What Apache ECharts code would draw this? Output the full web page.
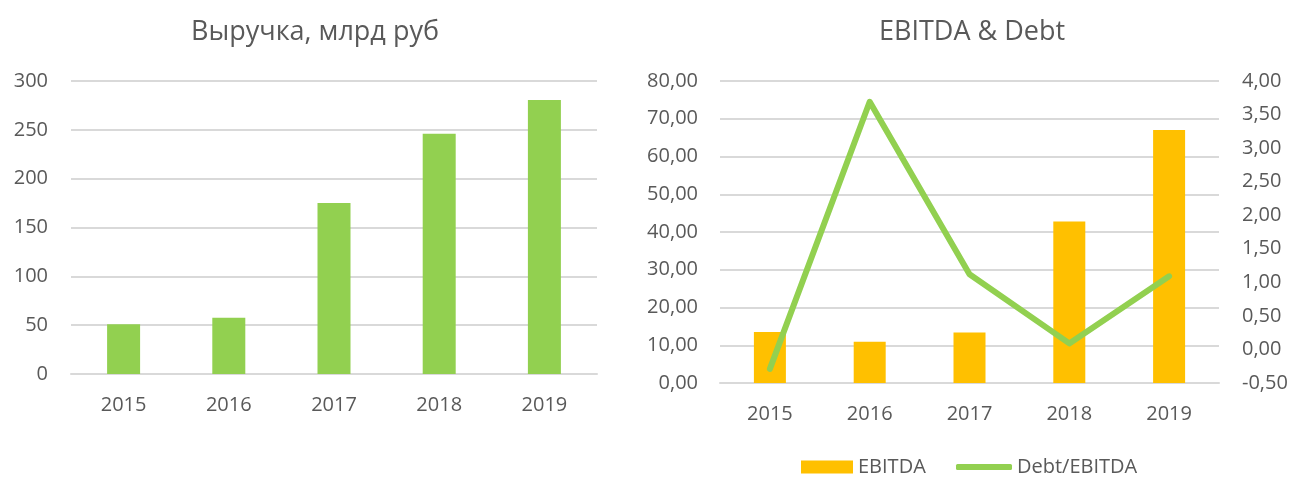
<!DOCTYPE html>
<html><head><meta charset="utf-8">
<script src="https://cdn.jsdelivr.net/npm/echarts@6/dist/echarts.min.js"></script>
<style>html,body{margin:0;padding:0;background:#fff}#c{width:1293px;height:478px}</style>
</head><body><div id="c"></div>
<script>
const years = ['2015','2016','2017','2018','2019'];
const revenue = [51, 57.5, 175, 246, 280.5];
const ebitda = [13.5, 10.9, 13.4, 42.8, 67.0];
const debtEbitda = [-0.29, 3.69, 1.12, 0.09, 1.09];

const txt = '#595959';
const font = '"Open Sans", "Liberation Sans", sans-serif';
const fmt2 = v => v.toFixed(2).replace('.', ',');
const tick = 20;

const chart = echarts.init(document.getElementById('c'), null, {renderer:'canvas'});
chart.setOption({
  animation: false,
  textStyle: {fontFamily: font},
  title: [
    {text: 'Выручка, млрд руб', left: 310, top: 14, textAlign: 'center',
     textStyle: {fontFamily: font, fontSize: 27, fontWeight: 'normal', color: txt}},
    {text: 'EBITDA & Debt', left: 967, top: 14, textAlign: 'center',
     textStyle: {fontFamily: font, fontSize: 27, fontWeight: 'normal', color: txt}}
  ],
  legend: [
    {data: [{name: 'EBITDA', icon: 'rect'}], top: 457, left: 801, padding: 0,
     itemWidth: 52, itemHeight: 13,
     textStyle: {fontFamily: font, fontSize: 20, color: txt}},
    {data: [{name: 'Debt/EBITDA', icon: 'roundRect'}], top: 457, left: 956, padding: 0,
     itemWidth: 56, itemHeight: 6,
     textStyle: {fontFamily: font, fontSize: 20, color: txt}}
  ],
  grid: [
    {left: 71, right: 1293 - 597, top: 81, bottom: 478 - 374},
    {left: 720, right: 1293 - 1219, top: 81, bottom: 478 - 383}
  ],
  xAxis: [
    {type: 'category', gridIndex: 0, data: years,
     axisLine: {lineStyle: {color: '#d9d9d9', width: 2}}, axisTick: {show: false},
     axisLabel: {color: txt, fontSize: tick, margin: 21, fontFamily: font}},
    {type: 'category', gridIndex: 1, data: years,
     axisLine: {lineStyle: {color: '#d9d9d9', width: 2}}, axisTick: {show: false},
     axisLabel: {color: txt, fontSize: tick, margin: 21, fontFamily: font}}
  ],
  yAxis: [
    {type: 'value', gridIndex: 0, min: 0, max: 300, interval: 50,
     axisLine: {show: false}, axisTick: {show: false},
     splitLine: {lineStyle: {color: '#d9d9d9', width: 2}},
     axisLabel: {color: txt, fontSize: tick, margin: 23, fontFamily: font}},
    {type: 'value', gridIndex: 1, min: 0, max: 80, interval: 10,
     axisLine: {show: false}, axisTick: {show: false},
     splitLine: {lineStyle: {color: '#d9d9d9', width: 2}},
     axisLabel: {color: txt, fontSize: tick, margin: 22, fontFamily: font, formatter: fmt2}},
    {type: 'value', gridIndex: 1, position: 'right', min: -0.5, max: 4, interval: 0.5,
     axisLine: {show: false}, axisTick: {show: false}, splitLine: {show: false},
     axisLabel: {color: txt, fontSize: tick, margin: 23, fontFamily: font, formatter: fmt2}}
  ],
  series: [
    {type: 'bar', xAxisIndex: 0, yAxisIndex: 0, data: revenue, barWidth: 33,
     itemStyle: {color: '#92d050'}},
    {name: 'EBITDA', type: 'bar', xAxisIndex: 1, yAxisIndex: 1, data: ebitda, barWidth: 32,
     itemStyle: {color: '#ffc000'}},
    {name: 'Debt/EBITDA', type: 'line', xAxisIndex: 1, yAxisIndex: 2, data: debtEbitda,
     symbol: 'none', lineStyle: {color: '#92d050', width: 6, cap: 'round', join: 'round'},
     itemStyle: {color: '#92d050'}}
  ]
});
</script></body></html>
